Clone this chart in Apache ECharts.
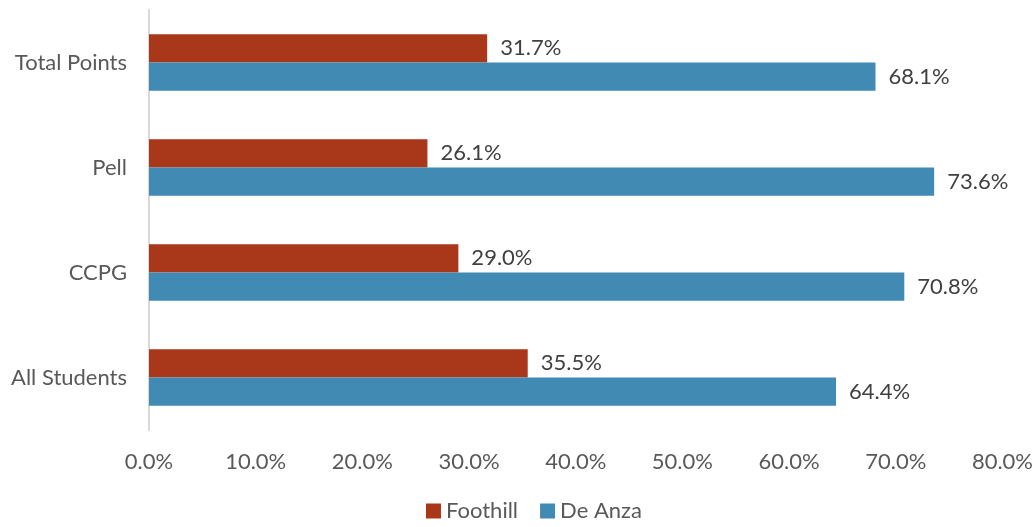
<!DOCTYPE html>
<html>
<head>
<meta charset="utf-8">
<script src="https://cdn.jsdelivr.net/npm/echarts@6/dist/echarts.min.js"></script>
<style>
html,body{margin:0;padding:0;background:#fff;}
#chart{width:1036px;height:527px;}
</style>
</head>
<body>
<div id="chart"></div>
<script>
const categories = ['All Students', 'CCPG', 'Pell', 'Total Points'];
const foothill = [35.5, 29.0, 26.1, 31.7];
const deAnza = [64.4, 70.8, 73.6, 68.1];
const xTicks = [0, 10, 20, 30, 40, 50, 60, 70, 80];

const FONT = 'Lato, "Open Sans", sans-serif';
const FS = 22;
const chart = echarts.init(document.getElementById('chart'), null, {renderer: 'canvas'});
const labelStyle = {
  show: true, position: 'right', distance: 13,
  color: '#404040', fontSize: FS, fontFamily: FONT,
  formatter: p => p.value.toFixed(1) + '%'
};
chart.setOption({
  animation: false,
  grid: {left: 149, right: 32, top: 10, bottom: 97, containLabel: false},
  legend: {
    data: ['Foothill', 'De Anza'],
    bottom: 0, left: 421,
    icon: 'rect', itemWidth: 15, itemHeight: 15, itemGap: 22, padding: 5,
    textStyle: {color: '#595959', fontSize: FS, fontFamily: FONT}
  },
  xAxis: {
    type: 'value', min: xTicks[0], max: xTicks[xTicks.length - 1], interval: 10,
    axisLine: {show: false}, axisTick: {show: false}, splitLine: {show: false},
    axisLabel: {color: '#595959', fontSize: FS, fontFamily: FONT, margin: 21,
      formatter: v => v.toFixed(1) + '%'}
  },
  yAxis: {
    type: 'category', data: categories,
    axisLine: {show: true, lineStyle: {color: '#d9d9d9', width: 2}},
    axisTick: {show: false},
    axisLabel: {color: '#595959', fontSize: FS, fontFamily: FONT, margin: 22}
  },
  series: [
    {name: 'Foothill', type: 'bar', data: foothill, barGap: '0%', barCategoryGap: '46%',
     itemStyle: {color: '#A9381A'}, label: labelStyle},
    {name: 'De Anza', type: 'bar', data: deAnza, barGap: '0%', barCategoryGap: '46%',
     itemStyle: {color: '#418AB3'}, label: labelStyle}
  ]
});
</script>
</body>
</html>
